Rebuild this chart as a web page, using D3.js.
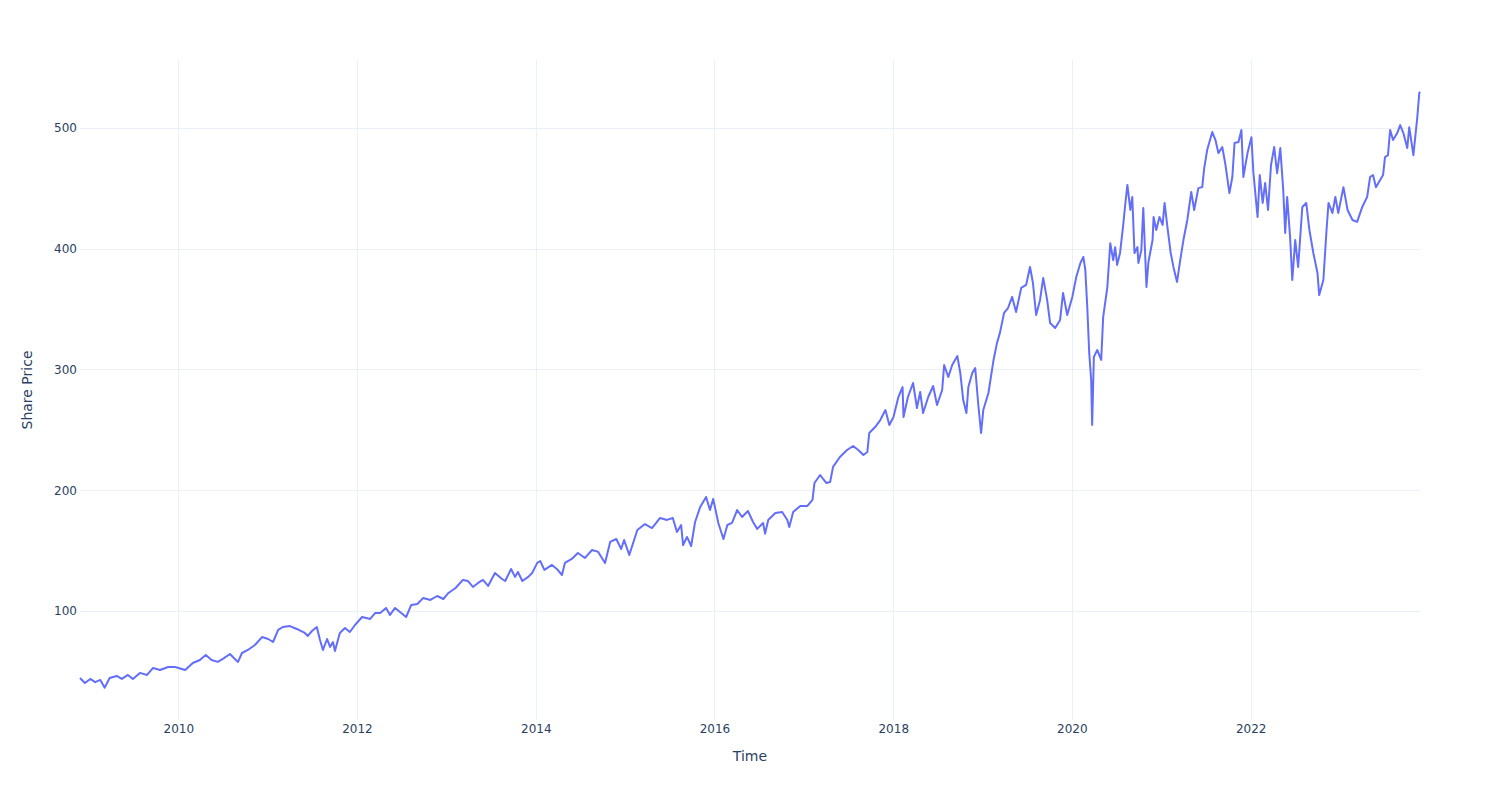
<!DOCTYPE html>
<html>
<head>
<meta charset="utf-8">
<script src="https://cdn.jsdelivr.net/npm/d3@7"></script>
<style>
  html, body { margin: 0; padding: 0; background: #fff; }
  svg { display: block; font-family: "DejaVu Sans", Verdana, sans-serif; }
</style>
</head>
<body>
<svg id="chart" width="1500" height="800"></svg>
<script>
const dates = [
"2008-11-25","2008-12-15","2009-01-06","2009-01-26","2009-02-16","2009-03-06","2009-03-26","2009-04-24","2009-05-15","2009-06-09",
"2009-06-29","2009-07-28","2009-08-26","2009-09-20","2009-10-18","2009-11-20","2009-12-19","2010-01-29","2010-03-01","2010-03-30",
"2010-04-23","2010-05-17","2010-06-11","2010-07-02","2010-07-31","2010-08-16","2010-09-02","2010-09-18","2010-10-12","2010-11-10",
"2010-12-09","2011-01-03","2011-01-23","2011-02-13","2011-03-04","2011-04-02","2011-04-30","2011-06-02","2011-06-14","2011-07-01",
"2011-07-21","2011-08-03","2011-08-15","2011-09-01","2011-09-13","2011-09-25","2011-10-03","2011-10-23","2011-11-13","2011-12-03",
"2011-12-24","2012-01-22","2012-02-24","2012-03-15","2012-04-05","2012-04-29","2012-05-15","2012-06-05","2012-06-25","2012-07-20",
"2012-08-10","2012-09-04","2012-09-28","2012-10-27","2012-11-24","2012-12-19","2013-01-09","2013-02-07","2013-03-09","2013-03-30",
"2013-04-19","2013-05-10","2013-05-30","2013-06-20","2013-07-18","2013-08-16","2013-08-29","2013-09-22","2013-10-08","2013-10-20",
"2013-11-07","2013-12-01","2013-12-17","2014-01-07","2014-01-19","2014-02-05","2014-03-08","2014-03-28","2014-04-18","2014-04-30",
"2014-05-28","2014-06-22","2014-07-21","2014-08-19","2014-09-13","2014-10-11","2014-11-01","2014-11-26","2014-12-16","2014-12-28",
"2015-01-18","2015-02-20","2015-03-23","2015-04-21","2015-05-24","2015-06-21","2015-07-15","2015-08-01","2015-08-18","2015-08-26",
"2015-09-11","2015-09-28","2015-10-14","2015-11-04","2015-11-28","2015-12-14","2015-12-27","2016-01-17","2016-02-07","2016-02-23",
"2016-03-13","2016-04-03","2016-04-23","2016-05-17","2016-06-07","2016-06-24","2016-07-18","2016-07-26","2016-08-08","2016-09-06",
"2016-10-04","2016-10-25","2016-11-02","2016-11-18","2016-12-17","2017-01-15","2017-02-05","2017-02-13","2017-03-08","2017-04-02",
"2017-04-18","2017-04-30","2017-05-28","2017-06-26","2017-07-21","2017-08-11","2017-09-01","2017-09-17","2017-09-25","2017-10-19",
"2017-11-09","2017-11-30","2017-12-16","2018-01-02","2018-01-22","2018-02-08","2018-02-12","2018-03-02","2018-03-23","2018-04-08",
"2018-04-21","2018-05-03","2018-05-24","2018-06-13","2018-06-29","2018-07-20","2018-07-28","2018-08-14","2018-08-30","2018-09-20",
"2018-10-02","2018-10-14","2018-10-27","2018-11-04","2018-11-20","2018-12-02","2018-12-14","2018-12-26","2019-01-04","2019-01-25",
"2019-02-15","2019-03-01","2019-03-13","2019-03-30","2019-04-15","2019-05-02","2019-05-18","2019-06-08","2019-06-28","2019-07-14",
"2019-07-26","2019-08-08","2019-08-24","2019-09-06","2019-09-22","2019-10-04","2019-10-25","2019-11-14","2019-11-26","2019-12-13",
"2020-01-03","2020-01-19","2020-02-05","2020-02-17","2020-02-25","2020-03-04","2020-03-12","2020-03-20","2020-03-24","2020-03-31",
"2020-04-14","2020-04-30","2020-05-08","2020-05-25","2020-06-06","2020-06-18","2020-06-26","2020-07-04","2020-07-16","2020-07-29",
"2020-08-06","2020-08-15","2020-08-27","2020-09-04","2020-09-13","2020-09-25","2020-09-29","2020-10-11","2020-10-19","2020-11-01",
"2020-11-09","2020-11-26","2020-11-30","2020-12-11","2020-12-24","2021-01-06","2021-01-14","2021-01-26","2021-02-08","2021-02-20",
"2021-03-06","2021-03-19","2021-04-01","2021-04-17","2021-05-03","2021-05-15","2021-06-01","2021-06-17","2021-06-25","2021-07-07",
"2021-07-28","2021-08-10","2021-08-22","2021-09-07","2021-09-20","2021-10-06","2021-10-18","2021-10-27","2021-11-12","2021-11-24",
"2021-12-02","2021-12-19","2022-01-04","2022-01-12","2022-01-29","2022-02-07","2022-02-19","2022-03-01","2022-03-13","2022-03-25",
"2022-04-07","2022-04-19","2022-05-02","2022-05-14","2022-05-22","2022-05-30","2022-06-11","2022-06-20","2022-07-02","2022-07-14",
"2022-07-31","2022-08-16","2022-08-29","2022-09-14","2022-10-01","2022-10-08","2022-10-25","2022-11-07","2022-11-15","2022-12-01",
"2022-12-13","2022-12-25","2023-01-15","2023-02-01","2023-02-21","2023-03-12","2023-04-02","2023-04-22","2023-05-04","2023-05-16",
"2023-05-28","2023-06-14","2023-06-26","2023-07-04","2023-07-16","2023-07-25","2023-08-06","2023-08-23","2023-09-04","2023-09-17",
"2023-10-03","2023-10-11","2023-10-28","2023-11-13","2023-11-21","2023-11-24"
];

const prices = [
44.5,40.4,43.7,41.0,42.9,36.5,44.5,46.2,43.7,47.0,
43.7,48.7,47.0,52.8,51.1,53.6,53.6,51.1,56.9,59.4,
63.6,59.4,57.8,60.3,64.4,61.1,57.8,65.2,67.7,71.8,
78.4,76.8,74.3,84.3,86.7,87.5,85.1,81.8,79.3,83.4,
86.7,75.9,67.7,76.8,70.2,74.3,66.9,81.8,85.9,82.6,
88.4,95.0,93.4,98.3,98.3,102.5,96.7,102.5,99.2,95.0,
105.0,105.8,110.8,109.1,112.4,109.9,114.9,119.0,125.7,124.8,
119.9,123.2,125.7,120.7,131.5,126.5,124.8,134.8,128.2,132.3,
124.8,128.2,131.5,139.8,141.4,134.0,138.1,134.8,129.8,139.8,
143.1,148.0,143.9,150.5,148.9,139.8,157.2,159.6,151.3,158.8,
146.4,167.1,172.0,168.7,177.0,175.4,177.0,165.4,171.2,154.6,
161.3,153.8,173.7,186.1,194.4,183.6,192.8,172.9,159.6,171.2,
172.9,183.6,177.8,182.8,173.7,168.0,172.9,164.0,175.4,181.2,
182.0,175.4,169.6,182.0,187.0,187.0,192.0,206.0,212.6,206.0,
206.8,219.3,227.5,233.3,236.6,233.3,229.2,231.6,247.4,252.3,
258.1,266.4,254.0,260.6,277.2,285.4,260.6,277.2,288.8,268.1,
281.4,263.9,277.2,286.3,270.6,283.0,303.7,293.8,303.7,311.1,
297.1,274.7,263.9,285.4,297.1,301.2,272.2,247.4,266.4,280.5,
307.9,322.0,330.3,346.8,350.9,360.1,347.6,367.5,370.0,384.9,
371.6,345.1,357.6,375.8,357.6,338.5,334.4,341.0,363.4,345.1,
360.1,376.6,388.2,393.2,382.4,351.8,313.7,291.3,254.0,310.4,
316.1,307.9,343.4,368.0,404.6,390.5,401.3,386.6,396.5,419.7,
436.2,452.8,432.1,442.9,396.5,401.3,388.2,398.8,433.7,368.3,
389.0,407.2,426.3,415.5,426.3,419.7,437.9,417.2,396.5,384.1,
372.5,390.5,407.2,423.8,447.0,432.1,450.2,451.0,466.8,481.7,
496.6,490.0,479.2,484.2,469.3,446.1,459.4,487.5,488.4,498.3,
459.4,479.2,492.4,463.0,426.3,461.0,437.9,454.5,432.1,469.3,
484.2,462.6,483.4,448.6,413.0,442.9,409.7,374.1,407.2,384.9,
434.6,437.9,415.5,396.5,379.9,361.6,374.1,415.5,437.9,429.6,
442.9,429.6,451.0,432.1,423.8,422.2,434.6,442.9,459.4,461.0,
451.0,456.9,461.0,475.9,477.5,498.3,490.0,495.8,502.4,495.8,
483.4,500.7,477.5,509.0,528.9,530.0
];

const yTickValues = [100, 200, 300, 400, 500];
const xTickYears = [2010, 2012, 2014, 2016, 2018, 2020, 2022];
const xTitle = "Time";
const yTitle = "Share Price";

const parse = d3.timeParse("%Y-%m-%d");
const data = dates.map((d, i) => ({ date: parse(d), value: prices[i] }));

const W = 1500, H = 800;
const m = { left: 80, right: 80, top: 60, bottom: 80 };
const svg = d3.select("#chart");

const x = d3.scaleTime()
  .domain(d3.extent(data, d => d.date))
  .range([m.left, W - m.right]);
const y = d3.scaleLinear()
  .domain([9.7, 556.3])
  .range([H - m.bottom, m.top]);

const gridColor = "#EBF0F8";
const textColor = "#2a3f5f";

// gridlines
const xTicks = xTickYears.map(yr => new Date(yr, 0, 1));
svg.append("g").selectAll("line").data(xTicks).join("line")
  .attr("x1", d => Math.round(x(d)) + 0.5).attr("x2", d => Math.round(x(d)) + 0.5)
  .attr("y1", m.top).attr("y2", H - m.bottom)
  .attr("stroke", gridColor).attr("stroke-width", 1);
svg.append("g").selectAll("line").data(yTickValues).join("line")
  .attr("x1", m.left).attr("x2", W - m.right)
  .attr("y1", d => Math.round(y(d)) + 0.5).attr("y2", d => Math.round(y(d)) + 0.5)
  .attr("stroke", gridColor).attr("stroke-width", 1);

// axes via d3 axis generators (no domain/tick lines, plotly style)
const xAxis = d3.axisBottom(x).tickValues(xTicks).tickFormat(d3.timeFormat("%Y")).tickSize(0).tickPadding(4);
const gx = svg.append("g").attr("transform", `translate(0,${H - m.bottom})`).call(xAxis);
gx.select(".domain").remove();
gx.selectAll("text").attr("fill", textColor).style("font-size", "12px").style("font-family", "'DejaVu Sans', Verdana, sans-serif");

const yAxis = d3.axisLeft(y).tickValues(yTickValues).tickFormat(d3.format("d")).tickSize(0).tickPadding(3);
const gy = svg.append("g").attr("transform", `translate(${m.left},0)`).call(yAxis);
gy.select(".domain").remove();
gy.selectAll("text").attr("fill", textColor).style("font-size", "12px").style("font-family", "'DejaVu Sans', Verdana, sans-serif");

// line
const line = d3.line().x(d => x(d.date)).y(d => y(d.value));
svg.append("path").datum(data)
  .attr("d", line)
  .attr("fill", "none")
  .attr("stroke", "#636efa")
  .attr("stroke-width", 2)
  .attr("stroke-linejoin", "round");

// axis titles
svg.append("text")
  .attr("x", (m.left + W - m.right) / 2).attr("y", 761)
  .attr("text-anchor", "middle")
  .attr("fill", textColor).style("font-size", "14px")
  .text(xTitle);
svg.append("text")
  .attr("transform", `translate(32,${(m.top + H - m.bottom) / 2}) rotate(-90)`)
  .attr("text-anchor", "middle")
  .attr("fill", textColor).style("font-size", "14px")
  .text(yTitle);
</script>
</body>
</html>
